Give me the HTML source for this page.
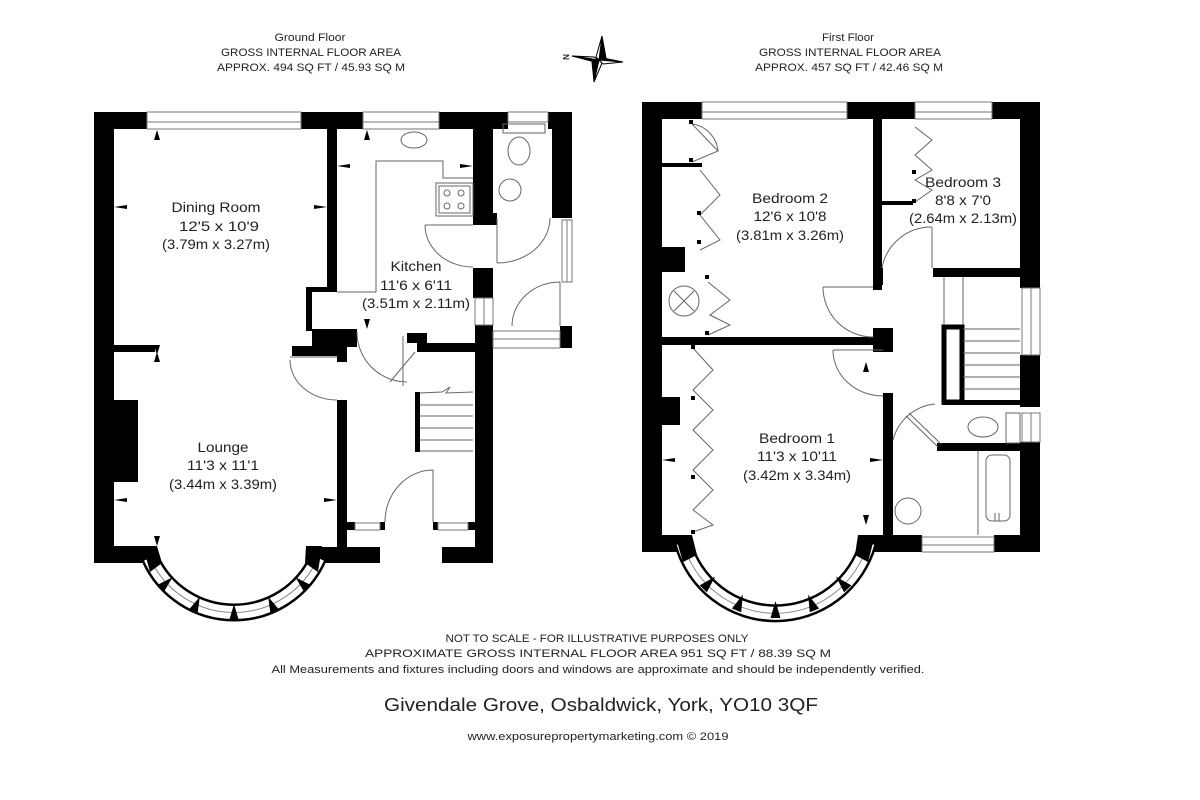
<!DOCTYPE html>
<html><head><meta charset="utf-8"><style>
html,body{margin:0;padding:0;background:#fff;}
svg{display:block;}
text{font-family:"Liberation Sans",sans-serif;fill:#222;}
</style></head><body>
<svg width="1200" height="800" viewBox="0 0 1200 800" xmlns="http://www.w3.org/2000/svg">
<rect width="1200" height="800" fill="#fff"/>

<g font-size="11" text-anchor="middle">
<text x="310" y="41" textLength="71" lengthAdjust="spacingAndGlyphs">Ground Floor</text>
<text x="311" y="56" textLength="180" lengthAdjust="spacingAndGlyphs">GROSS INTERNAL FLOOR AREA</text>
<text x="311" y="71" textLength="188" lengthAdjust="spacingAndGlyphs">APPROX. 494 SQ FT / 45.93 SQ M</text>
<text x="848" y="41" textLength="52" lengthAdjust="spacingAndGlyphs">First Floor</text>
<text x="850" y="56" textLength="182" lengthAdjust="spacingAndGlyphs">GROSS INTERNAL FLOOR AREA</text>
<text x="849" y="71" textLength="188" lengthAdjust="spacingAndGlyphs">APPROX. 457 SQ FT / 42.46 SQ M</text>
</g>

<g stroke="#000" stroke-width="1">
<polygon points="602,36 606,58 599,60" fill="#000"/>
<polygon points="602,36 599,60 596,57" fill="#fff"/>
<polygon points="594,82 592,62 599,60" fill="#000"/>
<polygon points="594,82 599,60 602,63" fill="#fff"/>
<polygon points="572,56 594,57 599,60" fill="#fff"/>
<polygon points="572,56 599,60 595,62" fill="#000"/>
<polygon points="623,62 603,58 599,60" fill="#000"/>
<polygon points="623,62 599,60 603,64" fill="#fff"/>
</g>
<text x="566" y="60" font-size="8" font-weight="bold" text-anchor="middle" transform="rotate(-90 566 57)">N</text>

<!-- GROUND FLOOR -->
<g fill="#000">
<rect x="94" y="112" width="20" height="451"/>
<rect x="94" y="112" width="53" height="17"/>
<rect x="301" y="112" width="62" height="17"/>
<rect x="439" y="112" width="69" height="17"/>
<rect x="548" y="112" width="24" height="17"/>
<rect x="552" y="112" width="20" height="106"/>
<rect x="327" y="129" width="10" height="160"/>
<rect x="306" y="287" width="31" height="5"/>
<rect x="306" y="287" width="6" height="44"/>
<rect x="312" y="329" width="45" height="18"/>
<rect x="292" y="346" width="55" height="10"/>
<rect x="337" y="346" width="10" height="16"/>
<rect x="114" y="345" width="41" height="7"/>
<rect x="114" y="400" width="24" height="82"/>
<rect x="337" y="400" width="10" height="147"/>
<rect x="94" y="546" width="63" height="17"/>
<rect x="307" y="547" width="73" height="16"/>
<rect x="442" y="547" width="51" height="16"/>
<rect x="473" y="112" width="20" height="111"/>
<rect x="473" y="213" width="24" height="12"/>
<rect x="473" y="268" width="20" height="30"/>
<rect x="475" y="325" width="18" height="238"/>
<rect x="407" y="333" width="20" height="10"/>
<rect x="417" y="343" width="58" height="9"/>
<rect x="415" y="392" width="5" height="60"/>
<rect x="560" y="326" width="12" height="22"/>
<rect x="347" y="522" width="8" height="8"/>
<rect x="380" y="522" width="5" height="8"/>
<rect x="433" y="522" width="5" height="8"/>
<rect x="468" y="522" width="7" height="8"/>
</g>
<g fill="#fff" stroke="#777" stroke-width="1">
<rect x="147" y="112" width="154" height="17"/>
<line x1="147" y1="122" x2="301" y2="122"/>
<rect x="363" y="112" width="76" height="17"/>
<line x1="363" y1="122" x2="439" y2="122"/>
<rect x="508" y="112" width="40" height="10"/>
<rect x="475" y="298" width="18" height="27"/>
<line x1="484" y1="298" x2="484" y2="325"/>
<rect x="562" y="220" width="10" height="62"/>
<line x1="567" y1="220" x2="567" y2="282"/>
<rect x="493" y="331" width="67" height="17"/>
<line x1="493" y1="339" x2="560" y2="339"/>
<rect x="355" y="523" width="25" height="7"/>
<rect x="438" y="523" width="30" height="7"/>
</g>
<g fill="none" stroke="#666" stroke-width="1">
<path d="M337,292 L376,292 L376,161 L443,161 L443,178 L473,178"/>
<rect x="436" y="183" width="37" height="33"/>
<rect x="439" y="186" width="31" height="27"/>
<circle cx="447" cy="193" r="3"/><circle cx="461" cy="193" r="3"/>
<circle cx="447" cy="206" r="3"/><circle cx="461" cy="206" r="3"/>
<ellipse cx="414" cy="140" rx="13" ry="8"/>
<rect x="503" y="124" width="42" height="9"/>
<ellipse cx="519" cy="151" rx="11" ry="14"/>
<circle cx="510" cy="190" r="11"/>
<path d="M425,225 L473,225 M425,225 A48,42 0 0 0 473,267"/>
<path d="M497,218 L497,263 M497,263 A53,45 0 0 0 550,218"/>
<path d="M560,326 L560,282 M512,326 A48,44 0 0 1 560,282"/>
<path d="M357,332 A50,50 0 0 0 407,382 M403,336 L403,386 M390,382 L415,352"/>
<path d="M290,357 L337,357 M290,360 A47,40 0 0 0 337,400"/>
<path d="M433,522 L433,470 M385,522 A48,52 0 0 1 433,470"/>
<path d="M420,393 L442,392 L450,387 L446,393 L473,392"/>
<path d="M420,405 L473,405 M420,416 L473,416 M420,428 L473,428 M420,440 L473,440 M420,451 L473,451"/>
</g>
<g fill="none">
<path d="M150,558 A92,92 0 0 0 318,558" stroke="#000" stroke-width="18"/>
<path d="M150,558 A92,92 0 0 0 318,558" stroke="#fff" stroke-width="13"/>
<path d="M150,558 A92,92 0 0 0 318,558" stroke="#888" stroke-width="1"/>
</g>
<g fill="#000">
<g transform="translate(234,520) rotate(0)"><polygon points="-5,101 5,101 0,84"/></g>
<g transform="translate(234,520) rotate(24)"><polygon points="-5,101 5,101 0,84"/></g>
<g transform="translate(234,520) rotate(-24)"><polygon points="-5,101 5,101 0,84"/></g>
<g transform="translate(234,520) rotate(47)"><polygon points="-5,101 5,101 0,84"/></g>
<g transform="translate(234,520) rotate(-47)"><polygon points="-5,101 5,101 0,84"/></g>
<polygon points="143,546 157,546 162,563 150,572"/>
<polygon points="306,546 322,546 318,572 305,563"/>
</g>
<g fill="#000">
<polygon points="157,130 160,140 154,140"/>
<polygon points="367,130 370,140 364,140"/>
<polygon points="114,207 127,205 127,209"/>
<polygon points="327,207 314,205 314,209"/>
<polygon points="337,166 350,164 350,168"/>
<polygon points="473,166 460,164 460,168"/>
<polygon points="157,355 160,345 154,345"/>
<polygon points="157,352 160,362 154,362"/>
<polygon points="367,329 370,319 364,319"/>
<polygon points="114,500 127,498 127,502"/>
<polygon points="337,500 324,498 324,502"/>
<polygon points="157,546 160,536 154,536"/>
</g>
<g font-size="14" text-anchor="middle">
<text x="216" y="212" textLength="89" lengthAdjust="spacingAndGlyphs">Dining Room</text>
<text x="219" y="231" textLength="80" lengthAdjust="spacingAndGlyphs">12'5 x 10'9</text>
<text x="216" y="249" textLength="108" lengthAdjust="spacingAndGlyphs">(3.79m x 3.27m)</text>
<text x="416" y="271" textLength="51" lengthAdjust="spacingAndGlyphs">Kitchen</text>
<text x="416" y="290" textLength="72" lengthAdjust="spacingAndGlyphs">11'6 x 6'11</text>
<text x="416" y="308" textLength="108" lengthAdjust="spacingAndGlyphs">(3.51m x 2.11m)</text>
<text x="223" y="452" textLength="51" lengthAdjust="spacingAndGlyphs">Lounge</text>
<text x="223" y="470" textLength="72" lengthAdjust="spacingAndGlyphs">11'3 x 11'1</text>
<text x="223" y="489" textLength="108" lengthAdjust="spacingAndGlyphs">(3.44m x 3.39m)</text>
</g>

<!-- FIRST FLOOR -->
<g fill="#000">
<rect x="642" y="102" width="20" height="450"/>
<rect x="642" y="102" width="60" height="17"/>
<rect x="847" y="102" width="68" height="17"/>
<rect x="992" y="102" width="48" height="17"/>
<rect x="1020" y="102" width="20" height="186"/>
<rect x="1020" y="355" width="20" height="52"/>
<rect x="1020" y="442" width="20" height="110"/>
<rect x="642" y="535" width="48" height="17"/>
<rect x="858" y="535" width="64" height="17"/>
<rect x="994" y="535" width="46" height="17"/>
<rect x="873" y="119" width="9" height="171"/>
<rect x="873" y="268" width="10" height="17"/>
<rect x="933" y="268" width="87" height="9"/>
<rect x="882" y="201" width="31" height="4"/>
<rect x="662" y="337" width="230" height="8"/>
<rect x="873" y="328" width="20" height="24"/>
<rect x="883" y="393" width="10" height="142"/>
<rect x="937" y="443" width="83" height="8"/>
<rect x="662" y="397" width="18" height="28"/>
<rect x="662" y="247" width="23" height="25"/>
<rect x="662" y="163" width="40" height="4"/>
<rect x="942" y="400" width="78" height="5"/>
</g>
<rect x="944" y="327" width="18" height="75" fill="none" stroke="#000" stroke-width="5"/>
<g fill="#fff" stroke="#777" stroke-width="1">
<rect x="702" y="102" width="145" height="17"/>
<line x1="702" y1="112" x2="847" y2="112"/>
<rect x="915" y="102" width="77" height="17"/>
<line x1="915" y1="112" x2="992" y2="112"/>
<rect x="1022" y="288" width="18" height="67"/>
<line x1="1031" y1="288" x2="1031" y2="355"/>
<rect x="1022" y="413" width="18" height="29"/>
<line x1="1031" y1="413" x2="1031" y2="442"/>
<rect x="922" y="537" width="72" height="15"/>
<line x1="922" y1="545" x2="994" y2="545"/>
</g>
<g fill="none" stroke="#666" stroke-width="1">
<path d="M944,277 L944,325 M963,277 L963,325"/>
<path d="M963,329 L1020,329 M963,341 L1020,341 M963,353 L1020,353 M963,365 L1020,365 M963,377 L1020,377 M963,389 L1020,389"/>
<rect x="986" y="455" width="24" height="66" rx="6"/>
<path d="M978,451 L978,535 M995,513 L995,521 M999,513 L999,521"/>
<circle cx="908" cy="511" r="13"/>
<ellipse cx="983" cy="427" rx="15" ry="10"/>
<rect x="1006" y="413" width="14" height="30"/>
<circle cx="684" cy="301" r="15"/>
<path d="M674,291 L694,311 M694,291 L674,311"/>
<path d="M882,268 A50,50 0 0 1 932,227 M932,227 L932,268"/>
<path d="M823,287 L873,287 M823,287 A50,50 0 0 0 873,337"/>
<path d="M833,350 L883,350 M833,350 A50,46 0 0 0 883,396"/>
<path d="M893,440 A48,48 0 0 1 935,404 M906,416 L938,447 M909,413 L941,444"/>
<path d="M692,124 L718,151 L692,162 M692,124 A30,30 0 0 1 718,151"/>
<path d="M700,170 L720,195 L700,215 L720,240 L700,250"/>
<path d="M708,282 L730,300 L710,315 L730,325 L708,335"/>
<path d="M915,127 L932,140 L915,155 L932,170 L915,180 L932,190 L915,202"/>
<path d="M693,348 L713,370 L693,390 L713,410 L693,430 L713,450 L693,470 L713,490 L693,510 L713,525 L693,532"/>
</g>
<g fill="#000">
<rect x="689" y="120" width="4" height="4"/><rect x="689" y="158" width="4" height="4"/>
<rect x="697" y="211" width="4" height="4"/><rect x="697" y="240" width="4" height="4"/>
<rect x="912" y="170" width="4" height="4"/><rect x="912" y="199" width="4" height="4"/>
<rect x="705" y="275" width="4" height="4"/><rect x="705" y="331" width="4" height="4"/>
<rect x="691" y="345" width="4" height="4"/><rect x="691" y="396" width="4" height="4"/>
<rect x="691" y="475" width="4" height="4"/><rect x="691" y="530" width="4" height="4"/>
<polygon points="866,362 869,372 863,372"/>
<polygon points="662,460 675,458 675,462"/>
<polygon points="883,460 870,458 870,462"/>
<polygon points="866,525 869,515 863,515"/>
</g>
<g fill="none">
<path d="M683,543 A96,96 0 0 0 868,543" stroke="#000" stroke-width="18"/>
<path d="M683,543 A96,96 0 0 0 868,543" stroke="#fff" stroke-width="13"/>
<path d="M683,543 A96,96 0 0 0 868,543" stroke="#888" stroke-width="1"/>
</g>
<g fill="#000">
<g transform="translate(775.5,514) rotate(0)"><polygon points="-5,104 5,104 0,87"/></g>
<g transform="translate(775.5,514) rotate(22)"><polygon points="-5,104 5,104 0,87"/></g>
<g transform="translate(775.5,514) rotate(-22)"><polygon points="-5,104 5,104 0,87"/></g>
<g transform="translate(775.5,514) rotate(44)"><polygon points="-5,104 5,104 0,87"/></g>
<g transform="translate(775.5,514) rotate(-44)"><polygon points="-5,104 5,104 0,87"/></g>
<polygon points="675,535 692,535 697,555 683,562"/>
<polygon points="858,535 875,535 868,562 855,555"/>
</g>
<g font-size="14" text-anchor="middle">
<text x="790" y="203" textLength="76" lengthAdjust="spacingAndGlyphs">Bedroom 2</text>
<text x="790" y="221" textLength="73" lengthAdjust="spacingAndGlyphs">12'6 x 10'8</text>
<text x="790" y="240" textLength="108" lengthAdjust="spacingAndGlyphs">(3.81m x 3.26m)</text>
<text x="963" y="187" textLength="76" lengthAdjust="spacingAndGlyphs">Bedroom 3</text>
<text x="963" y="205" textLength="56" lengthAdjust="spacingAndGlyphs">8'8 x 7'0</text>
<text x="963" y="223" textLength="108" lengthAdjust="spacingAndGlyphs">(2.64m x 2.13m)</text>
<text x="797" y="443" textLength="76" lengthAdjust="spacingAndGlyphs">Bedroom 1</text>
<text x="797" y="461" textLength="80" lengthAdjust="spacingAndGlyphs">11'3 x 10'11</text>
<text x="797" y="480" textLength="108" lengthAdjust="spacingAndGlyphs">(3.42m x 3.34m)</text>
</g>

<g text-anchor="middle">
<text x="597" y="642" font-size="11" textLength="303" lengthAdjust="spacingAndGlyphs">NOT TO SCALE - FOR ILLUSTRATIVE PURPOSES ONLY</text>
<text x="598" y="657" font-size="11" textLength="466" lengthAdjust="spacingAndGlyphs">APPROXIMATE GROSS INTERNAL FLOOR AREA 951 SQ FT / 88.39 SQ M</text>
<text x="598" y="673" font-size="11" textLength="653" lengthAdjust="spacingAndGlyphs">All Measurements and fixtures including doors and windows are approximate and should be independently verified.</text>
<text x="601" y="711" font-size="18" textLength="434" lengthAdjust="spacingAndGlyphs">Givendale Grove, Osbaldwick, York, YO10 3QF</text>
<text x="598" y="740" font-size="11" textLength="261" lengthAdjust="spacingAndGlyphs">www.exposurepropertymarketing.com © 2019</text>
</g>
</svg>
</body></html>
